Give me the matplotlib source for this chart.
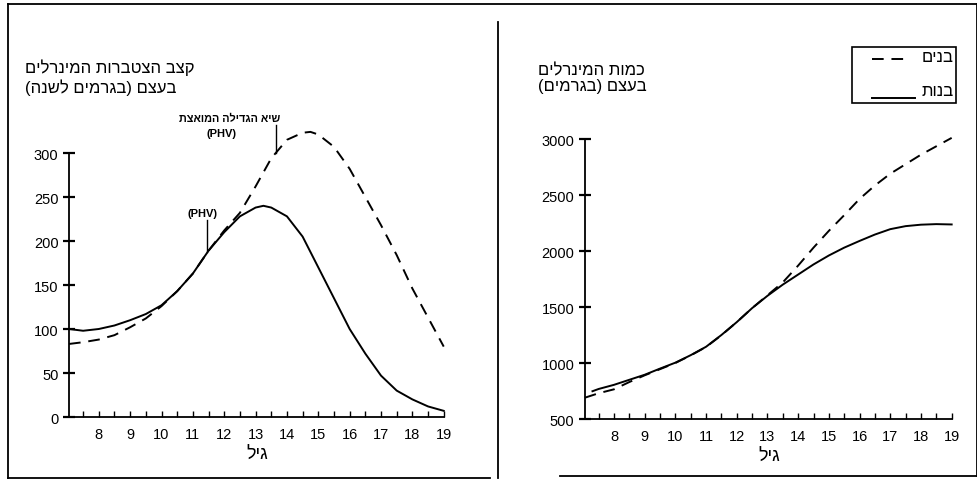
import numpy as np
import matplotlib
matplotlib.use("Agg")
import matplotlib.pyplot as plt
from matplotlib.lines import Line2D

plt.rcParams['font.family'] = ['Liberation Sans', 'DejaVu Sans']

# ---- data ----
# left panel: rate of bone mineral accretion (g / year)
age_rate_girls = [7.05, 7.5, 8.0, 8.5, 9.0, 9.5, 10.0, 10.5, 11.0, 11.5, 12.0, 12.5, 13.0, 13.25,
                  13.5, 14.0, 14.5, 15.0, 15.5, 16.0, 16.5, 17.0, 17.5, 18.0, 18.5, 19.0]
rate_girls = [100, 98, 100, 104, 110, 117, 127, 143, 163, 189, 210, 228, 238, 240,
              238, 228, 205, 170, 135, 100, 72, 47, 30, 20, 12, 7]

age_rate_boys = [7.05, 7.5, 8.0, 8.5, 9.0, 9.5, 10.0, 10.5, 11.0, 11.5, 12.0, 12.5, 13.0, 13.5,
                 14.0, 14.5, 14.75, 15.0, 15.5, 16.0, 16.5, 17.0, 17.5, 18.0, 18.5, 19.0]
rate_boys = [83, 85, 88, 93, 102, 112, 126, 143, 163, 189, 212, 232, 262, 294,
             315, 323, 324, 321, 307, 282, 250, 218, 184, 146, 113, 80]

# right panel: total bone mineral (g)
age_total_girls = [7.3, 7.5, 8.0, 8.5, 9.0, 9.5, 10.0, 10.5, 11.0, 11.5, 12.0, 12.5, 13.0,
                   13.5, 14.0, 14.5, 15.0, 15.5, 16.0, 16.5, 17.0, 17.5, 18.0, 18.5, 19.0]
total_girls = [748, 768, 805, 850, 895, 950, 1003, 1070, 1145, 1250, 1365, 1490, 1600,
               1700, 1790, 1880, 1960, 2030, 2090, 2147, 2195, 2222, 2235, 2240, 2237]

age_total_boys = [7.05, 7.5, 8.0, 8.5, 9.0, 9.5, 10.0, 10.5, 11.0, 11.5, 12.0, 12.5, 13.0,
                  13.5, 14.0, 14.5, 15.0, 15.5, 16.0, 16.5, 17.0, 17.5, 18.0, 18.5, 19.0]
total_boys = [690, 730, 765, 830, 890, 945, 1000, 1068, 1143, 1248, 1365, 1490, 1605,
              1720, 1870, 2030, 2180, 2320, 2465, 2585, 2690, 2775, 2860, 2935, 3010]

age_ticks = list(range(8, 20))
rate_ticks = [0, 50, 100, 150, 200, 250, 300]
total_ticks = [500, 1000, 1500, 2000, 2500, 3000]

phv_girls = 11.45
phv_boys = 13.65


def heb(s):
    # matplotlib has no bidi support: put hebrew in visual order
    return s[::-1].translate(str.maketrans('()', ')('))


W, H = 978, 481
fig = plt.figure(figsize=(W / 100, H / 100), dpi=100)
fig.patch.set_facecolor('white')


def fx(x):
    return x / W


def fy(y):
    return 1 - y / H


dash = (0, (6, 4))
lw = 1.4


def style_axes(ax, ylo, yhi, yticks):
    ax.set_xlim(7.05, 19.05)
    for s in ['top', 'right']:
        ax.spines[s].set_visible(False)
    ax.spines['left'].set_bounds(ylo, yhi)
    ax.spines['bottom'].set_bounds(7.05, 19.0)
    ax.spines['left'].set_linewidth(1.3)
    ax.spines['bottom'].set_linewidth(1.3)
    ax.set_xticks(age_ticks)
    ax.set_xticks(np.arange(7.5, 19.01, 0.5), minor=True)
    ax.tick_params(axis='x', which='both', direction='in', length=4, width=1, pad=7,
                   labelsize=10.5)
    ax.set_yticks(yticks)
    ax.tick_params(axis='y', direction='inout', length=9, width=1.6, pad=3, labelsize=10.5)
    ax.set_xlabel(heb('גיל'), fontsize=13, labelpad=3)
    ax.set_facecolor('none')


# ---- left panel ----
ax1 = fig.add_axes([fx(69), fy(418), fx(376.3), (418 - 127.6) / H])
ax1.set_ylim(0, 330)
ax1.plot(age_rate_boys, rate_boys, color='black', lw=lw, linestyle=dash, clip_on=False)
ax1.plot(age_rate_girls, rate_girls, color='black', lw=lw, clip_on=False)
style_axes(ax1, 0, 300, rate_ticks)

ax1.plot([phv_girls, phv_girls], [188, 224], color='black', lw=1)
ax1.text(phv_girls - 0.15, 226, '(PHV)', ha='center', va='bottom', fontsize=8, fontweight='bold')
ax1.plot([phv_boys, phv_boys], [300, 332], color='black', lw=1, clip_on=False)
fig.text(fx(222), fy(134), '(PHV)', ha='center', va='center', fontsize=8, fontweight='bold')
fig.text(fx(280), fy(119), heb('שיא הגדילה המואצת'), ha='right', va='center', fontsize=7.8,
         fontweight='bold')

fig.text(fx(25), fy(68), heb('קצב הצטברות המינרלים'), ha='left', va='center', fontsize=12)
fig.text(fx(25), fy(88), heb('בעצם (בגרמים לשנה)'), ha='left', va='center', fontsize=12)

# ---- right panel ----
ax2 = fig.add_axes([fx(584.8), fy(420), fx(368.4), (420 - 128.8) / H])
ax2.set_ylim(500, 3100)
ax2.plot(age_total_boys, total_boys, color='black', lw=lw, linestyle=dash, clip_on=False)
ax2.plot(age_total_girls, total_girls, color='black', lw=lw, clip_on=False)
style_axes(ax2, 500, 3000, total_ticks)

fig.text(fx(538), fy(71), heb('כמות המינרלים'), ha='left', va='center', fontsize=12)
fig.text(fx(538), fy(87), heb('בעצם (בגרמים)'), ha='left', va='center', fontsize=12)

# legend box drawn by hand (text sits to the right of the line samples)
fig.patches.append(plt.Rectangle((fx(852), fy(104)), fx(104), (104 - 48) / H, fill=False,
                                 edgecolor='black', lw=1.2, transform=fig.transFigure))
fig.lines.append(Line2D([fx(872), fx(904)], [fy(60), fy(60)], color='black', lw=lw,
                        linestyle=dash, transform=fig.transFigure))
fig.lines.append(Line2D([fx(872), fx(915)], [fy(99), fy(99)], color='black', lw=lw,
                        transform=fig.transFigure))
fig.text(fx(954), fy(58), heb('בנים'), ha='right', va='center', fontsize=12)
fig.text(fx(954), fy(92), heb('בנות'), ha='right', va='center', fontsize=12)

# page frame and divider
frame = [([8, 977], [5, 5]), ([8, 8], [5, 479]), ([8, 490], [479, 479]),
         ([560, 977], [477, 477]), ([977, 977], [5, 477]), ([498, 498], [23, 479])]
for xs, ys in frame:
    fig.lines.append(Line2D([fx(v) for v in xs], [fy(v) for v in ys], color='black', lw=1.3,
                            transform=fig.transFigure))

fig.savefig('out.png', dpi=100, facecolor='white')
